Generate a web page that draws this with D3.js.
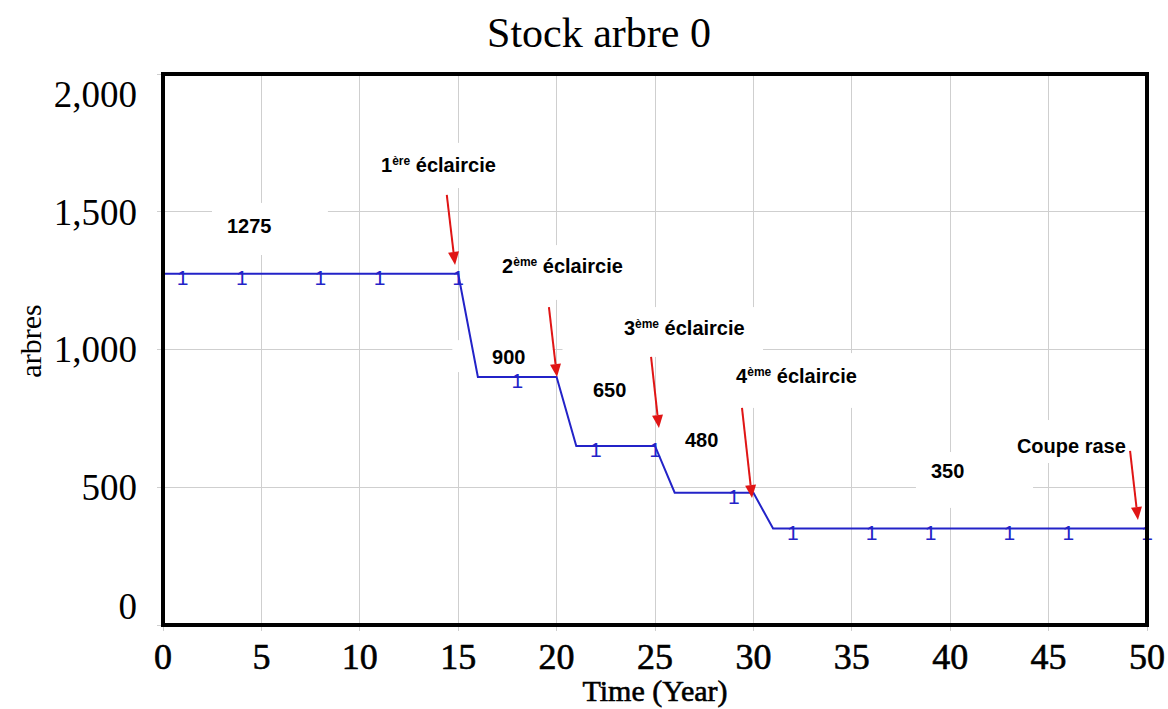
<!DOCTYPE html>
<html>
<head>
<meta charset="utf-8">
<script src="https://cdn.jsdelivr.net/npm/d3@7"></script>
<style>
  html, body { margin: 0; padding: 0; background: #fff; }
  svg { display: block; }
</style>
</head>
<body>
<svg id="chart" width="1168" height="709"></svg>
<script>
// ---------------- DATA ----------------
const title = "Stock arbre 0";
const xTitle = "Time (Year)";
const yTitle = "arbres";
const xTicks = [0, 5, 10, 15, 20, 25, 30, 35, 40, 45, 50];
const yTicks = [0, 500, 1000, 1500, 2000];

// stock breakpoints (Time, arbres)
const years = [0, 15, 16, 20, 21, 25, 26, 30, 31, 50];
const stock = [1275, 1275, 900, 900, 650, 650, 480, 480, 350, 350];

// line-number markers ("1") along the series
const markerYears = [1, 4, 8, 11, 15, 18, 22, 25, 29, 32, 36, 39, 43, 46, 50];

// annotation texts: [main, superscript, rest], anchor (time, value)
const labelTexts = ["1275", "1", "2", "3", "4", "900", "650", "480", "350", "Coupe rase"];
const labelSups = ["", "ère", "ème", "ème", "ème", "", "", "", "", ""];
const labelRest = ["", " éclaircie", " éclaircie", " éclaircie", " éclaircie", "", "", "", "", ""];
const labelT = [3.25, 11.08, 17.23, 23.42, 29.12, 16.72, 21.85, 26.52, 39.02, 43.39];
const labelV = [1423, 1644, 1278, 1053, 878, 947, 828, 646, 534, 624];
// white backing boxes of annotations [t0, t1, v0, v1]
const boxT0 = [2.49, 10.6, 16.6, 22.71, 28.6, 14.7, 20.3, 25.8, 38.26, 42.8];
const boxT1 = [8.38, 17.6, 24.3, 30.49, 36.2, 19.8, 24.2, 29.3, 44.21, 49.6];
const boxV0 = [1343, 1586, 1180, 973, 788, 918, 775, 599, 425, 588];
const boxV1 = [1532, 1750, 1379, 1154, 987, 1034, 1020, 726, 628, 744];

// red arrows: tail (t, v) -> tip (t, v)
const arrowTailT = [14.42, 19.61, 24.80, 29.42, 49.14];
const arrowTailV = [1561, 1154, 973, 788, 632];
const arrowTipT = [14.84, 20.02, 25.20, 29.93, 49.54];
const arrowTipV = [1307, 900, 715, 461, 381];

// ---------------- LAYOUT ----------------
const W = 1168, H = 709;
const margin = { left: 163, top: 74, right: 21, bottom: 84 };
const svg = d3.select("#chart");

const x = d3.scaleLinear().domain([0, 50]).range([margin.left, W - margin.right]);
const y = d3.scaleLinear().domain([0, 2000]).range([H - margin.bottom, margin.top]);

const serif = "'Liberation Serif', 'Times New Roman', serif";
const sans = "'Liberation Sans', Arial, sans-serif";
const blue = "#2323c8";
const red = "#e01515";

// title
svg.append("text")
  .attr("x", 599).attr("y", 47)
  .attr("text-anchor", "middle")
  .attr("font-family", serif).attr("font-size", 42)
  .text(title);

// gridlines
const grid = svg.append("g").attr("stroke", "#cfcfcf").attr("stroke-width", 1).attr("shape-rendering", "crispEdges");
grid.selectAll("line.v").data(xTicks).join("line")
  .attr("x1", d => x(d)).attr("x2", d => x(d))
  .attr("y1", y(2000)).attr("y2", y(0) + 6);
grid.selectAll("line.h").data(yTicks).join("line")
  .attr("x1", x(0) - 6).attr("x2", x(50))
  .attr("y1", d => y(d)).attr("y2", d => y(d));

// annotation backing boxes
svg.append("g").selectAll("rect").data(boxT0).join("rect")
  .attr("x", (d, i) => x(d))
  .attr("width", (d, i) => x(boxT1[i]) - x(d))
  .attr("y", (d, i) => y(boxV1[i]))
  .attr("height", (d, i) => y(boxV0[i]) - y(boxV1[i]))
  .attr("fill", "#fff");

// series line
const series = years.map((t, i) => ({ t, v: stock[i] }));
const line = d3.line().x(d => x(d.t)).y(d => y(d.v));
svg.append("path").datum(series)
  .attr("d", line)
  .attr("fill", "none").attr("stroke", blue).attr("stroke-width", 2);

// markers "1"
const valueAt = t => {
  const i = d3.bisectRight(years, t) - 1;
  if (i >= years.length - 1) return stock[stock.length - 1];
  const f = (t - years[i]) / (years[i + 1] - years[i]);
  return stock[i] + f * (stock[i + 1] - stock[i]);
};
svg.append("g").selectAll("text").data(markerYears).join("text")
  .attr("x", d => x(d)).attr("y", d => y(valueAt(d)) + 11)
  .attr("text-anchor", "middle")
  .attr("font-family", sans).attr("font-size", 21)
  .attr("fill", blue)
  .text("1");

// annotation labels
const lab = svg.append("g").attr("font-family", sans).attr("font-weight", "bold").attr("font-size", 20).attr("fill", "#000");
labelTexts.forEach((s, i) => {
  const t = lab.append("text").attr("x", x(labelT[i])).attr("y", y(labelV[i]));
  t.append("tspan").text(s);
  if (labelSups[i]) {
    t.append("tspan").attr("font-size", 12).attr("dy", -7).text(labelSups[i]);
    t.append("tspan").attr("dy", 7).text(labelRest[i]);
  }
});

// red arrows
const ag = svg.append("g");
arrowTailT.forEach((t0, i) => {
  const x0 = x(t0), y0 = y(arrowTailV[i]);
  const x1 = x(arrowTipT[i]), y1 = y(arrowTipV[i]);
  const dx = x1 - x0, dy = y1 - y0, len = Math.hypot(dx, dy);
  const ux = dx / len, uy = dy / len;
  const hl = 13, hw = 5.5;
  const bx = x1 - ux * hl, by = y1 - uy * hl;
  ag.append("line").attr("x1", x0).attr("y1", y0).attr("x2", bx).attr("y2", by)
    .attr("stroke", red).attr("stroke-width", 2);
  ag.append("path")
    .attr("d", `M${x1},${y1}L${bx - uy * hw},${by + ux * hw}L${bx + uy * hw},${by - ux * hw}Z`)
    .attr("fill", red);
});

// plot border
svg.append("rect")
  .attr("x", x(0)).attr("y", y(2000))
  .attr("width", x(50) - x(0)).attr("height", y(0) - y(2000))
  .attr("fill", "none").attr("stroke", "#000").attr("stroke-width", 4);

// y tick labels (clamped inside the frame)
svg.append("g").selectAll("text").data(yTicks).join("text")
  .attr("x", 137)
  .attr("y", d => Math.min(Math.max(y(d), y(2000) + 20), y(0) - 19))
  .attr("dy", "0.35em")
  .attr("text-anchor", "end")
  .attr("font-family", serif).attr("font-size", 37)
  .text(d => d3.format(",")(d));

// x tick labels
svg.append("g").selectAll("text").data(xTicks).join("text")
  .attr("x", d => x(d)).attr("y", 669)
  .attr("text-anchor", "middle")
  .attr("font-family", serif).attr("font-size", 36)
  .attr("stroke", "#000").attr("stroke-width", 0.6)
  .text(d => d);

// axis titles
svg.append("text")
  .attr("x", x(25)).attr("y", 701)
  .attr("text-anchor", "middle")
  .attr("font-family", serif).attr("font-size", 30)
  .attr("stroke", "#000").attr("stroke-width", 0.6)
  .text(xTitle);
svg.append("text")
  .attr("transform", `translate(41,341) rotate(-90)`)
  .attr("text-anchor", "middle")
  .attr("font-family", serif).attr("font-size", 30)
  .text(yTitle);
</script>
</body>
</html>
